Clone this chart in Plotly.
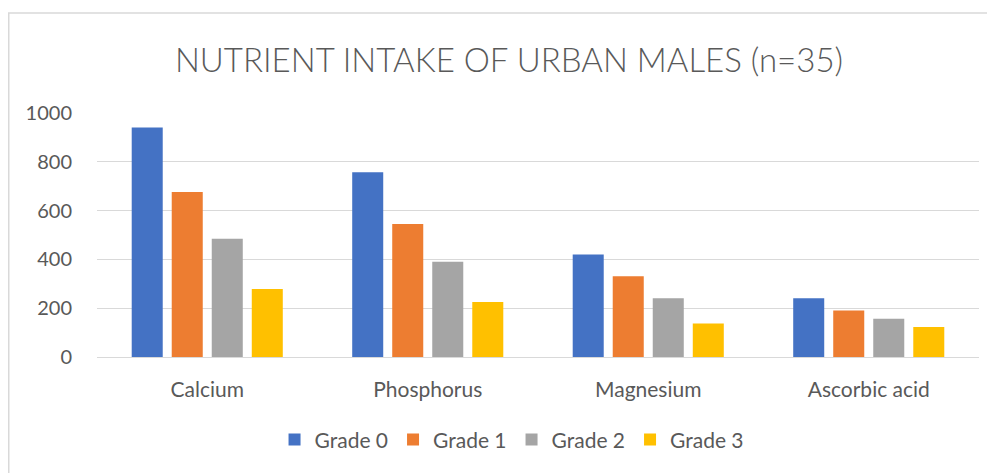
import plotly.graph_objects as go

categories = ["Calcium", "Phosphorus", "Magnesium", "Ascorbic acid"]
series_names = ["Grade 0", "Grade 1", "Grade 2", "Grade 3"]
grade0 = [941, 757, 420, 241]
grade1 = [676, 545, 331, 191]
grade2 = [485, 390, 241, 157]
grade3 = [279, 225, 137, 123]
y_ticks = [0, 200, 400, 600, 800, 1000]

colors = ["#4472C4", "#ED7D31", "#A5A5A5", "#FFC000"]
FONT = "Lato, 'Open Sans', sans-serif"

# page body has an 8px margin; figure sized/offset to compensate
W, H = 987, 465
L, R, T, B = 89, 16, 105, 116
PW, PH = W - L - R, H - T - B

fig = go.Figure()
for name, vals, c in zip(series_names, [grade0, grade1, grade2, grade3], colors):
    fig.add_trace(go.Bar(x=categories, y=vals, name=name, marker_color=c,
                         marker_line_width=0))

fig.update_layout(
    width=W, height=H,
    margin=dict(l=L, r=R, t=T, b=B),
    paper_bgcolor="white", plot_bgcolor="white",
    barmode="group", bargap=0.274, bargroupgap=0.225,
    title=dict(text="NUTRIENT INTAKE OF URBAN MALES (n=35)",
               x=0.5076, xanchor="center", y=0.888, yanchor="middle",
               font=dict(family=FONT, size=33, color="#595959", weight=300)),
    font=dict(family=FONT, color="#595959", size=20),
    legend=dict(orientation="h", x=0.47, xanchor="center", y=-0.34, yanchor="middle",
                font=dict(size=21, color="#595959"), itemwidth=30,
                traceorder="normal"),
    showlegend=True,
)
fig.update_xaxes(showgrid=False, showline=False, ticks="", ticklabelstandoff=18,
                 tickfont=dict(size=21, color="#595959"))
fig.update_yaxes(range=[0, 1000], tickvals=y_ticks, showgrid=True, gridcolor="#D9D9D9",
                 gridwidth=1, zeroline=True, zerolinecolor="#D9D9D9", zerolinewidth=1,
                 showline=False, ticks="", ticklabelstandoff=24,
                 tickfont=dict(size=20, color="#595959"))

fig.add_shape(type="rect", xref="paper", yref="paper",
              x0=(0.75 - L) / PW, x1=(W + 10 - L) / PW,
              y0=-(H + 10 - (T + PH)) / PH, y1=(T + PH - 5) / PH,
              line=dict(color="#D9D9D9", width=1.5), fillcolor="rgba(0,0,0,0)", layer="below")

fig.write_html("out.html")
